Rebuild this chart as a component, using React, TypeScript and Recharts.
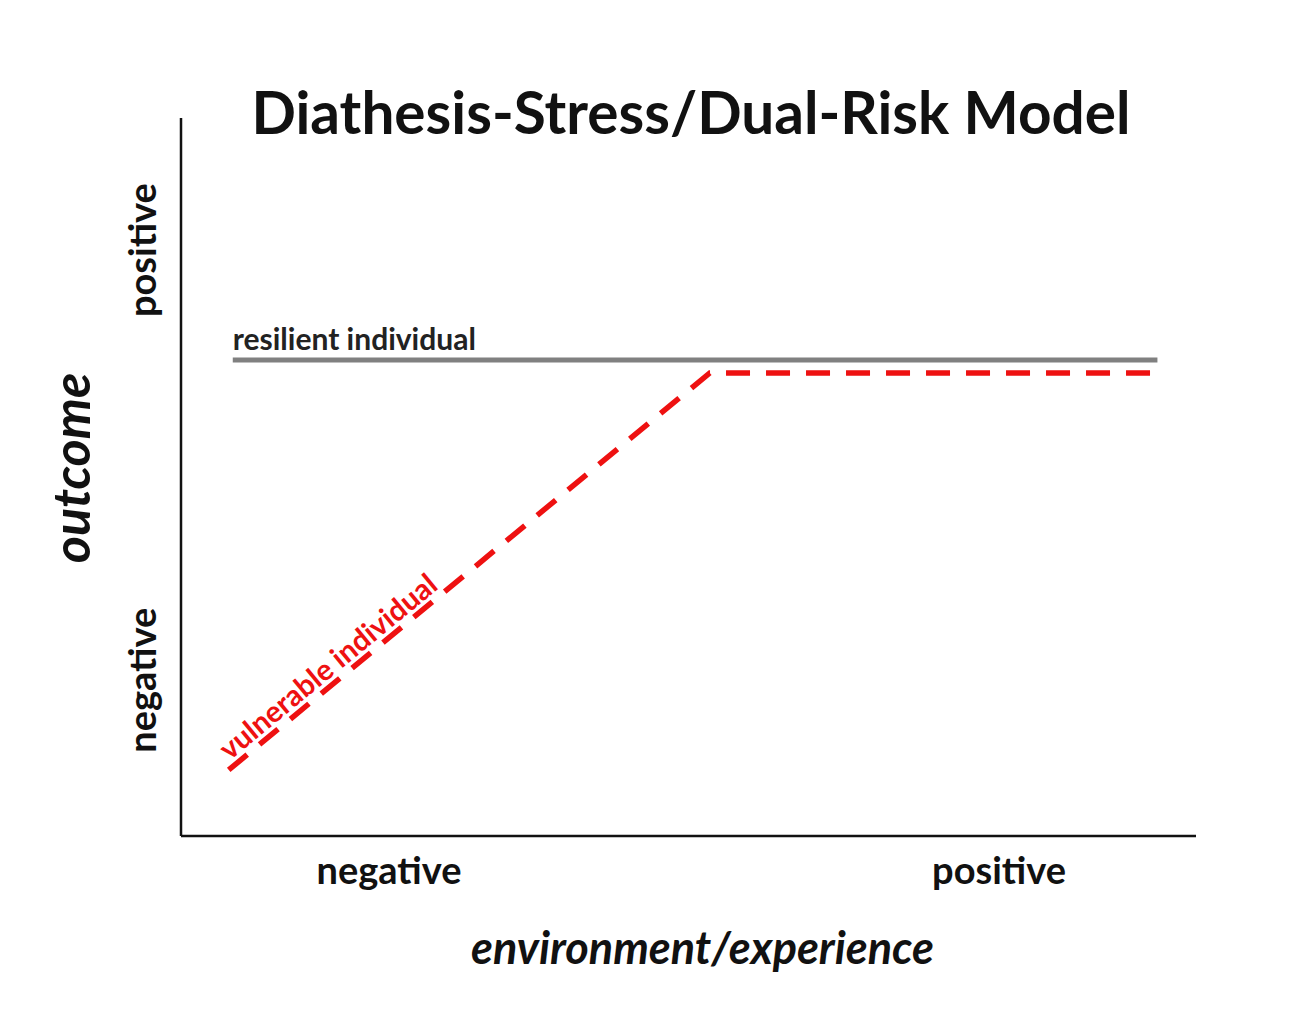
import { LineChart, Line, XAxis, YAxis, Label } from "recharts";

// environment on x (0..100), outcome on y (0..100)
const xTicks = [20.5, 80.6];
const xTickLabels = ["negative", "positive"];
const yTicks = [21.7, 81.6];
const yTickLabels = ["negative", "positive"];

const resilientEnv = [5.1, 96.2];
const resilientOutcome = [66.3, 66.3];
const vulnerableEnv = [4.7, 52.1, 96.2];
const vulnerableOutcome = [9.2, 64.5, 64.5];

const resilientData = resilientEnv.map((e, i) => ({ env: e, outcome: resilientOutcome[i] }));
const vulnerableData = vulnerableEnv.map((e, i) => ({ env: e, outcome: vulnerableOutcome[i] }));

const FONT = "Lato, 'Open Sans', sans-serif";
const INK = "#111";

const XTick = (props: any) => {
  const { x, y, payload } = props;
  const i = xTicks.indexOf(payload.value);
  return (
    <text x={x} y={y + 48} textAnchor="middle" fontFamily={FONT} fontWeight={700} fontSize={38} fill={INK}>
      {xTickLabels[i]}
    </text>
  );
};

const YTick = (props: any) => {
  const { x, y, payload } = props;
  const i = yTicks.indexOf(payload.value);
  const tx = x - 25;
  return (
    <text
      x={tx}
      y={y}
      transform={`rotate(-90, ${tx}, ${y})`}
      textAnchor="middle"
      fontFamily={FONT}
      fontWeight={700}
      fontSize={38}
      fill={INK}
    >
      {yTickLabels[i]}
    </text>
  );
};

const resilientLabel = (props: any) => {
  if (props.index !== 0) return <g />;
  return (
    <text x={props.x} y={props.y - 10} fontFamily={FONT} fontWeight={700} fontSize={30} fill="#222">
      resilient individual
    </text>
  );
};

const vulnerableLabel = (props: any) => {
  if (props.index !== 0) return <g />;
  const tx = props.x + 1;
  const ty = props.y - 9;
  return (
    <text
      x={tx}
      y={ty}
      transform={`rotate(-39.5, ${tx}, ${ty})`}
      fontFamily={FONT}
      fontWeight={700}
      fontSize={29.5}
      fill="#ee1111"
    >
      vulnerable individual
    </text>
  );
};

export default function App() {
  return (
    <div style={{ position: "absolute", left: 0, top: 0, width: 1301, height: 1021, background: "#fff" }}>
      <div
        style={{
          position: "absolute",
          left: 0,
          width: 1382,
          top: 75,
          textAlign: "center",
          fontFamily: FONT,
          fontWeight: 700,
          fontSize: 58.5,
          color: INK,
          lineHeight: "72px",
        }}
      >
        Diathesis-Stress/Dual-Risk Model
      </div>
      <LineChart width={1301} height={1021} margin={{ top: 118, right: 105, bottom: 184, left: 180 }}>
        <XAxis
          type="number"
          dataKey="env"
          domain={[0, 100]}
          ticks={xTicks}
          tick={<XTick />}
          tickLine={false}
          tickSize={0}
          tickMargin={0}
          height={1}
          axisLine={{ stroke: "#111", strokeWidth: 2.5 }}
          allowDataOverflow
        >
          <Label
            content={(p: any) => {
              const vb = p.viewBox;
              return (
                <text
                  x={vb.x + vb.width / 2 + 14}
                  y={vb.y + 128}
                  textAnchor="middle"
                  fontFamily={FONT}
                  fontStyle="italic"
                  fontWeight={700}
                  fontSize={45}
                  fill={INK}
                >
                  environment/experience
                </text>
              );
            }}
          />
        </XAxis>
        <YAxis
          type="number"
          dataKey="outcome"
          domain={[0, 100]}
          ticks={yTicks}
          tick={<YTick />}
          tickLine={false}
          tickSize={0}
          tickMargin={0}
          width={1}
          axisLine={{ stroke: "#111", strokeWidth: 2.5 }}
          allowDataOverflow
        >
          <Label
            content={(p: any) => {
              const vb = p.viewBox;
              const tx = vb.x + vb.width - 91;
              const ty = vb.y + vb.height / 2 - 9;
              return (
                <text
                  x={tx}
                  y={ty}
                  transform={`rotate(-90, ${tx}, ${ty})`}
                  textAnchor="middle"
                  fontFamily={FONT}
                  fontStyle="italic"
                  fontWeight={700}
                  fontSize={52}
                  fill={INK}
                >
                  outcome
                </text>
              );
            }}
          />
        </YAxis>
        <Line
          data={resilientData}
          dataKey="outcome"
          stroke="#808080"
          strokeWidth={5}
          dot={false}
          activeDot={false}
          isAnimationActive={false}
          label={resilientLabel}
        />
        <Line
          data={vulnerableData}
          dataKey="outcome"
          stroke="#ee1111"
          strokeWidth={5.5}
          strokeDasharray="24 16"
          dot={false}
          activeDot={false}
          isAnimationActive={false}
          label={vulnerableLabel}
        />
      </LineChart>
    </div>
  );
}
